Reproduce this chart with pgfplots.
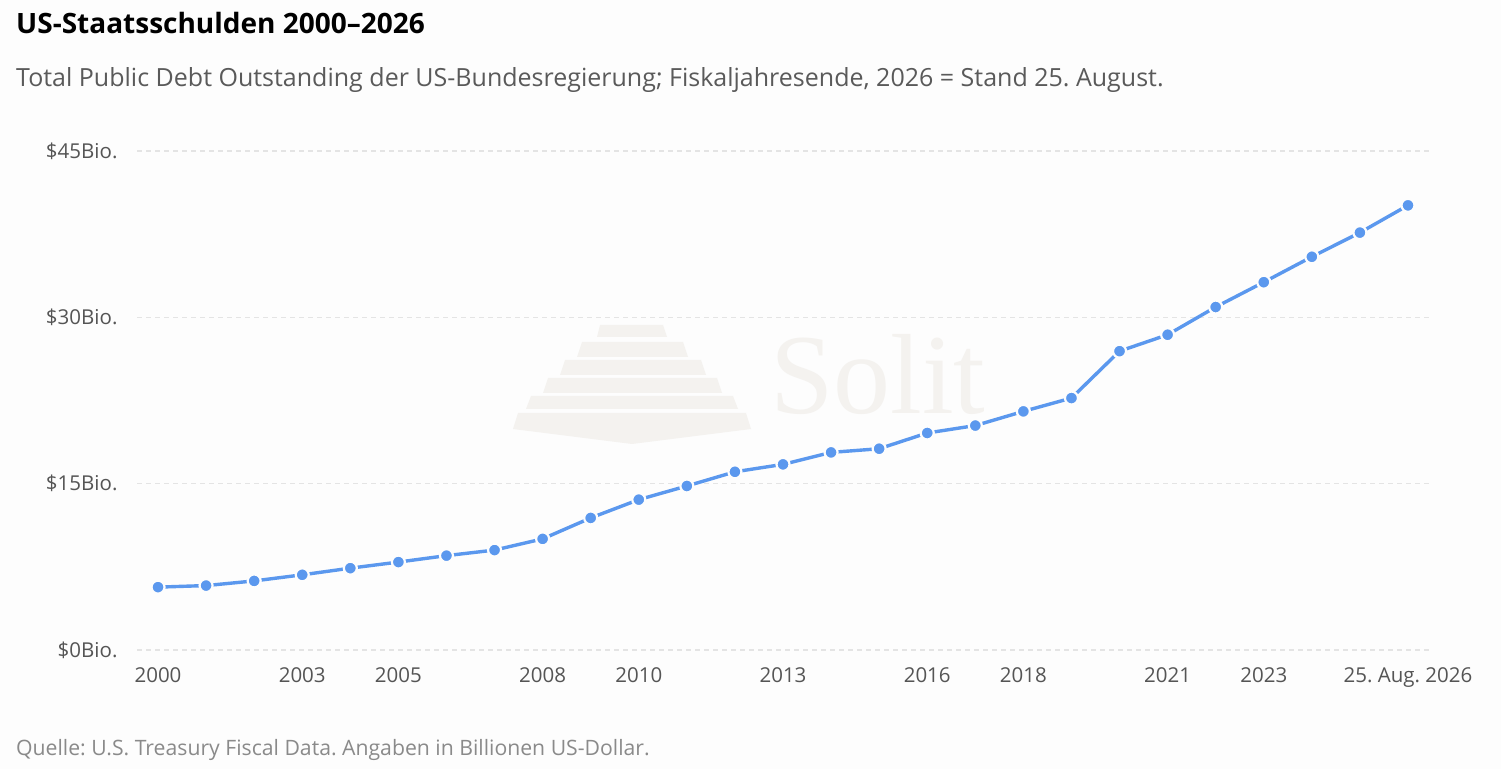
\documentclass[border=0pt]{standalone}
\usepackage{pgfplots}
\pgfplotsset{compat=1.18}
\usepackage{fontspec}
\setmainfont{Open Sans}
\frenchspacing
\definecolor{bg}{HTML}{FDFDFD}
\definecolor{linec}{HTML}{5B98EE}
\definecolor{gridc}{HTML}{E4E4E4}
\definecolor{tickc}{HTML}{555555}
\definecolor{subc}{HTML}{5A5A5A}
\definecolor{srcc}{HTML}{8A8A8A}
\definecolor{wm}{HTML}{F4F2EF}
\pgfplotstableread{
year debt
2000 5.67
2001 5.81
2002 6.23
2003 6.78
2004 7.38
2005 7.93
2006 8.51
2007 9.01
2008 10.02
2009 11.91
2010 13.56
2011 14.79
2012 16.07
2013 16.74
2014 17.82
2015 18.15
2016 19.57
2017 20.24
2018 21.52
2019 22.72
2020 26.95
2021 28.43
2022 30.93
2023 33.17
2024 35.46
2025 37.64
2026 40.10
}\debt
\begin{document}
\begin{tikzpicture}[x=1pt,y=1pt]
\fill[bg] (0,0) rectangle (1501,769);
\path[use as bounding box] (0,0) rectangle (1501,769);
% watermark
\begin{scope}[wm]
\fill (600,444) -- (663,444) -- (667,432) -- (597,432) -- cycle;
\fill (582,427) -- (683,427) -- (688,412) -- (577,412) -- cycle;
\fill (565,409) -- (701,409) -- (706,394) -- (560,394) -- cycle;
\fill (548,391) -- (717,391) -- (722,376) -- (543,376) -- cycle;
\fill (531,373) -- (733,373) -- (738,360) -- (526,360) -- cycle;
\fill (518,356) -- (746,356) -- (751,340) -- (632,325) -- (513,340) -- cycle;
\node[anchor=base west,font=\fontspec{Liberation Serif}\fontsize{114}{114}\selectfont,text=wm,inner sep=0] at (770,355) {Solit};
\end{scope}
\node[anchor=base west,inner sep=0,font=\fontsize{28}{32}\selectfont\bfseries] at (16,735) {US-Staatsschulden 2000–2026};
\node[anchor=base west,inner sep=0,text=subc,font=\fontsize{25}{28}\selectfont] at (16,682) {Total Public Debt Outstanding der US-Bundesregierung; Fiskaljahresende, 2026 = Stand 25. August.};
\node[anchor=base west,inner sep=0,text=srcc,font=\fontsize{21.2}{24}\selectfont] at (16,14) {Quelle: U.S. Treasury Fiscal Data. Angaben in Billionen US-Dollar.};
\begin{axis}[
  at={(137pt,119pt)}, anchor=south west,
  scale only axis, width=1295pt, height=499pt,
  xmin=1999.563, xmax=2026.5, ymin=0, ymax=45,
  axis line style={draw=none},
  major tick length=0pt,
  ymajorgrids, xmajorgrids=false,
  y grid style={color=gridc, line width=1.3pt, dash pattern=on 5pt off 4pt},
  ytick={0,15,30,45},
  yticklabels={\$0Bio.,\$15Bio.,\$30Bio.,\$45Bio.},
  xtick={2000,2003,2005,2008,2010,2013,2016,2018,2021,2023,2026},
  xticklabels={2000,2003,2005,2008,2010,2013,2016,2018,2021,2023,25. Aug. 2026},
  ticklabel style={text=tickc, font=\fontsize{20.5}{24}\selectfont},
  yticklabel style={anchor=east, xshift=-16pt},
  xticklabel style={anchor=north, yshift=-14pt},
  clip=false,
]
\addplot[linec, line width=3.4pt, mark=*, mark size=6.5pt,
  mark options={fill=linec, draw=bg, line width=2.2pt}] table[x=year,y=debt] {\debt};
\end{axis}
\end{tikzpicture}
\end{document}
